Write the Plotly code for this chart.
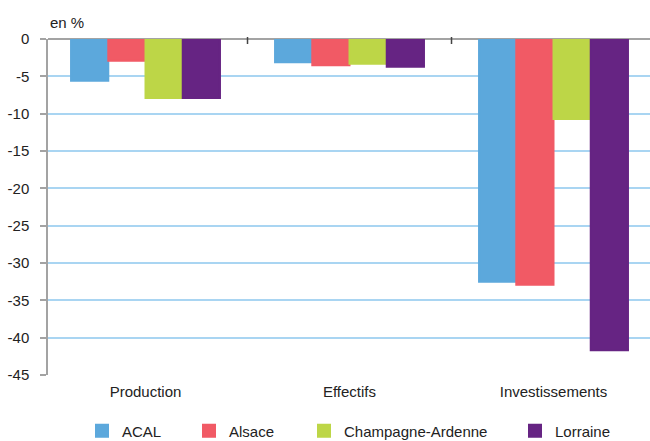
import plotly.graph_objects as go

# Variation by indicator and region (en %)
categories = ["Production", "Effectifs", "Investissements"]
acal = [-5.6, -3.1, -32.5]
alsace = [-2.9, -3.5, -32.9]
champagne = [-7.9, -3.3, -10.7]
lorraine = [-7.9, -3.7, -41.7]

series = [
    ("ACAL", acal, "#5ca8dc"),
    ("Alsace", alsace, "#f15a65"),
    ("Champagne-Ardenne", champagne, "#bdd647"),
    ("Lorraine", lorraine, "#662483"),
]

y_ticks = list(range(0, -50, -5))

FONT = "Liberation Sans, Arial, sans-serif"
TEXT = "#222222"
W, H = 650, 441
ML, MR, MT, MB = 48, 0, 39, 66
PH = H - MT - MB

# legend entries, each in its own legend box (left edge in px)
legend_left = [82, 189, 304, 515]
legend_names = ["legend", "legend2", "legend3", "legend4"]

fig = go.Figure()
for (name, vals, color), lg in zip(series, legend_names):
    fig.add_trace(go.Bar(
        x=categories, y=vals, name=name,
        marker=dict(color=color, line=dict(color=color, width=2)),
        legend=lg,
    ))

layout_legends = {}
for lg, left in zip(legend_names, legend_left):
    layout_legends[lg] = dict(
        orientation="h", xref="container", yref="container",
        x=left / W, xanchor="left",
        y=1 - 431 / H, yanchor="middle",
        font=dict(family=FONT, size=15, color=TEXT),
        bgcolor="rgba(0,0,0,0)", borderwidth=0,
    )

fig.update_layout(
    width=W, height=H,
    margin=dict(l=ML, r=MR, t=MT, b=MB),
    paper_bgcolor="white", plot_bgcolor="white",
    barmode="group", bargap=0.27, bargroupgap=0,
    font=dict(family=FONT, size=15, color=TEXT),
    showlegend=True,
    xaxis=dict(
        range=[-0.478, 2.473], showgrid=False, zeroline=False,
        showline=False, ticks="", ticklabelstandoff=6,
        tickfont=dict(family=FONT, size=15, color=TEXT),
        fixedrange=True,
    ),
    yaxis=dict(
        range=[-45, 0], tickvals=y_ticks,
        ticktext=[str(v) for v in y_ticks],
        showgrid=True, gridcolor="#a9d5f2", gridwidth=1.5,
        zeroline=True, zerolinecolor="#a3a3a3", zerolinewidth=2,
        showline=True, linecolor="#a3a3a3", linewidth=1.5,
        ticks="outside", ticklen=6, tickcolor="#a3a3a3", tickwidth=1.5,
        ticklabelstandoff=8,
        tickfont=dict(family=FONT, size=15, color=TEXT),
        fixedrange=True,
    ),
    annotations=[dict(
        text="en %", xref="paper", yref="paper",
        x=0, y=(H - MB - 22.5) / PH, xanchor="left", yanchor="middle",
        showarrow=False, font=dict(family=FONT, size=15, color=TEXT),
    )],
    shapes=[
        dict(type="line", xref="x", yref="paper", x0=b, x1=b,
             y0=1 + 2 / PH, y1=1 - 5 / PH,
             line=dict(color="#444444", width=1.5), layer="above")
        for b in (0.5, 1.5)
    ],
    **layout_legends,
)

fig.write_html("out.html")
